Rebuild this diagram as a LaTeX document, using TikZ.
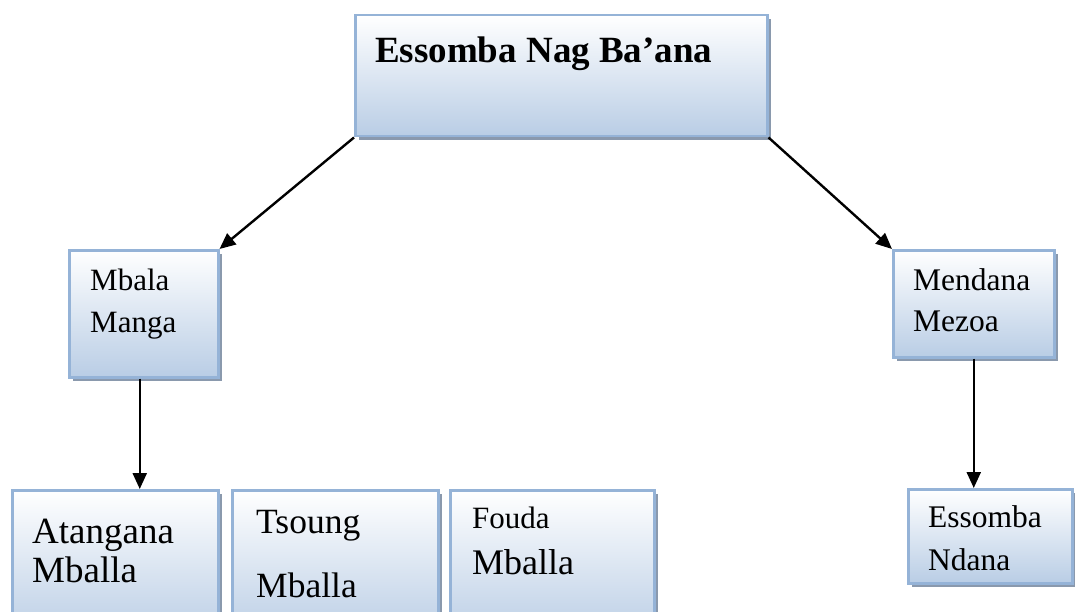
\documentclass[tikz,border=0pt]{standalone}
\usepackage{fontspec}
\setmainfont{Liberation Serif}
\usetikzlibrary{arrows.meta,shadows}
\definecolor{boxline}{HTML}{95B3D7}
\definecolor{boxfill}{HTML}{B9CDE5}
\definecolor{boxshade}{HTML}{8A99AD}

\begin{document}
\begin{tikzpicture}[x=1pt, y=-1pt,
  box/.style={draw=boxline, line width=2.5pt, top color=white, bottom color=boxfill, anchor=north west, inner sep=0,
    drop shadow={shadow xshift=4pt, shadow yshift=-4pt, fill=boxshade, opacity=1}},
  arr/.style={line width=2.4pt, -{Triangle[length=16pt,width=14pt]}},
  txt/.style={anchor=base west, inner sep=0, font=\fontsize{#1}{#1}\selectfont}]
\clip (0,0) rectangle (1075,612);
% boxes
\node[box, minimum width=412, minimum height=121] (nag) at (354,14) {};
\node[box, minimum width=149, minimum height=127] (mbala) at (68,249) {};
\node[box, minimum width=161, minimum height=107] (mendana) at (892,249) {};
\node[box, minimum width=164, minimum height=94] (ndana) at (907,488) {};
\node[box, minimum width=206, minimum height=150] (atangana) at (11,489) {};
\node[box, minimum width=206, minimum height=150] (tsoung) at (231,489) {};
\node[box, minimum width=204, minimum height=150] (fouda) at (449,489) {};
% names
\node[txt=37, font=\fontsize{37}{37}\selectfont\bfseries] (nagT) at (375,63) {Essomba Nag Ba’ana};
\node[txt=31] (mbalaA) at (90,290) {Mbala}; \node[txt=31] (mbalaB) at (90,332) {Manga};
\node[txt=31.5] (mendanaA) at (913,290) {Mendana}; \node[txt=31.5] (mendanaB) at (913,331) {Mezoa};
\node[txt=31.5] (ndanaA) at (928,527) {Essomba}; \node[txt=31.5] (ndanaB) at (928,570) {Ndana};
\node[txt=37] (atanganaA) at (32,543) {Atangana}; \node[txt=37] (atanganaB) at (32,582) {Mballa};
\node[txt=35.5] (tsoungA) at (256,533) {Tsoung}; \node[txt=35.5] (tsoungB) at (256,597) {Mballa};
\node[txt=31] (foudaA) at (472,528) {Fouda}; \node[txt=36] (foudaB) at (472,574) {Mballa};
% links
\draw[arr] (nag.south west) -- (mbala.north east);
\draw[arr] (nag.south east) -- (mendana.north west);
\draw[arr] ([xshift=-4pt]mbala.south) -- ([xshift=-4pt]mbala.south |- atangana.north);
\draw[arr] (mendana.south) -- (mendana.south |- ndana.north);
\end{tikzpicture}
\end{document}
